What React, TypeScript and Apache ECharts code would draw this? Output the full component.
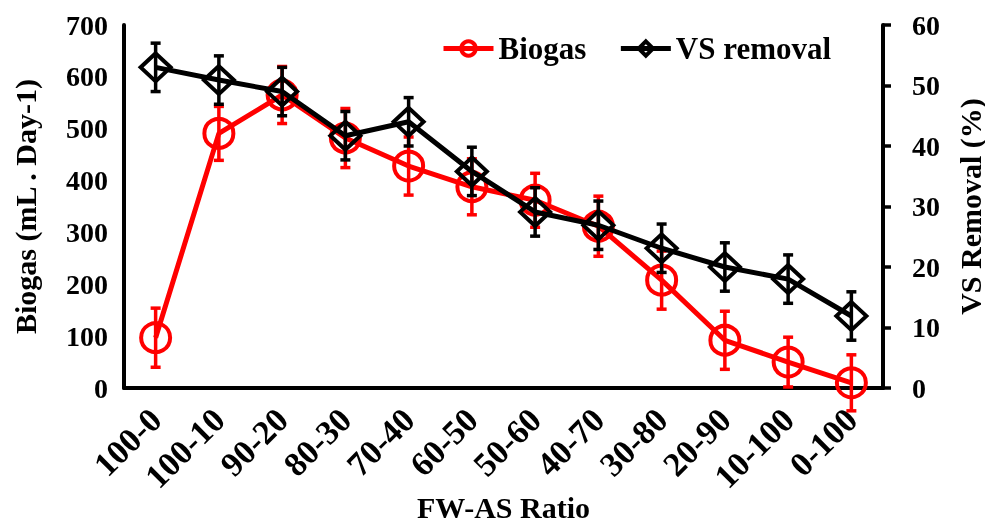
import React, { useEffect, useRef } from "react";
import * as echarts from "echarts";

const categories = ["100-0", "100-10", "90-20", "80-30", "70-40", "60-50", "50-60", "40-70", "30-80", "20-90", "10-100", "0-100"];
const biogas = [97, 491, 565, 482, 428, 388, 362, 312, 208, 92, 50, 10];
const biogasErr = [57, 52, 55, 57, 56, 54, 52, 58, 56, 56, 48, 54];
const vsRemoval = [53.0, 50.9, 49.0, 41.7, 44.0, 35.8, 29.1, 26.9, 23.1, 20.0, 18.0, 11.9];
const vsErr = [4, 4, 4, 4, 4, 4, 4, 4, 4, 4, 4, 4];
const leftTicks = [0, 700, 100];
const rightTicks = [0, 60, 10];

const FONT = '"Liberation Serif", "Times New Roman", serif';

function errorSeries(values: number[], errs: number[], color: string, yAxisIndex: number, z: number) {
  return {
    type: "custom",
    yAxisIndex,
    z,
    silent: true,
    data: values.map((v, i) => [i, v - errs[i], v + errs[i]]),
    renderItem: (params: any, api: any) => {
      const lo = api.coord([api.value(0), api.value(1)]);
      const hi = api.coord([api.value(0), api.value(2)]);
      const hw = 5;
      const style = { stroke: color, lineWidth: 3.5 };
      return {
        type: "group",
        children: [
          { type: "line", shape: { x1: lo[0], y1: lo[1], x2: hi[0], y2: hi[1] }, style },
          { type: "line", shape: { x1: lo[0] - hw, y1: lo[1], x2: lo[0] + hw, y2: lo[1] }, style },
          { type: "line", shape: { x1: hi[0] - hw, y1: hi[1], x2: hi[0] + hw, y2: hi[1] }, style },
        ],
      };
    },
  };
}

export default function App() {
  const ref = useRef<HTMLDivElement>(null);
  useEffect(() => {
    const chart = echarts.init(ref.current!, null, { renderer: "svg" });
    const axisText = { color: "#000", fontFamily: FONT, fontWeight: "bold", fontSize: 28 };
    const nameText = { color: "#000", fontFamily: FONT, fontWeight: "bold", fontSize: 30 };
    chart.setOption({
      animation: false,
      grid: { left: 124, right: 102, top: 25, bottom: 134, containLabel: false, outerBoundsMode: "none" },
      legend: {
        data: ["Biogas", "VS removal"],
        left: 436,
        top: 28,
        itemWidth: 50,
        itemHeight: 18,
        itemGap: 32,
        lineStyle: { width: 5 },
        itemStyle: { borderWidth: 4 },
        textStyle: { color: "#000", fontFamily: FONT, fontWeight: "bold", fontSize: 31 },
      },
      xAxis: {
        type: "category",
        data: categories,
        boundaryGap: true,
        axisLine: { lineStyle: { color: "#000", width: 4 } },
        axisTick: { show: false },
        axisLabel: { ...axisText, fontSize: 34, rotate: 45, margin: 26, interval: 0 },
        name: "FW-AS Ratio",
        nameLocation: "middle",
        nameGap: 104,
        nameMoveOverlap: false,
        nameTextStyle: { ...nameText, fontSize: 30 },
      },
      yAxis: [
        {
          type: "value",
          min: leftTicks[0],
          max: leftTicks[1],
          interval: leftTicks[2],
          position: "left",
          axisLine: { show: true, lineStyle: { color: "#000", width: 4 } },
          axisTick: { show: false },
          splitLine: { show: false },
          axisLabel: { ...axisText, margin: 16 },
          name: "Biogas (mL . Day-1)",
          nameLocation: "middle",
          nameGap: 84,
          nameMoveOverlap: false,
          nameRotate: 90,
          nameTextStyle: nameText,
        },
        {
          type: "value",
          min: rightTicks[0],
          max: rightTicks[1],
          interval: rightTicks[2],
          position: "right",
          axisLine: { show: true, lineStyle: { color: "#000", width: 4 } },
          axisTick: { show: true, length: 8, lineStyle: { color: "#000", width: 3.5 } },
          splitLine: { show: false },
          axisLabel: { ...axisText, margin: 29 },
          name: "VS Removal (%)",
          nameLocation: "middle",
          nameGap: 72,
          nameMoveOverlap: false,
          nameRotate: 90,
          nameTextStyle: nameText,
        },
      ],
      series: [
        {
          name: "Biogas",
          type: "line",
          yAxisIndex: 0,
          data: biogas,
          z: 2,
          symbol: "circle",
          symbolSize: 29,
          lineStyle: { color: "#ff0000", width: 5 },
          itemStyle: { color: "rgba(255,255,255,0)", borderColor: "#ff0000", borderWidth: 4 },
        },
        errorSeries(biogas, biogasErr, "#ff0000", 0, 3),
        {
          name: "VS removal",
          type: "line",
          yAxisIndex: 1,
          data: vsRemoval,
          z: 4,
          symbol: "diamond",
          symbolSize: [30, 28],
          lineStyle: { color: "#000", width: 5 },
          itemStyle: { color: "rgba(255,255,255,0)", borderColor: "#000", borderWidth: 4 },
        },
        errorSeries(vsRemoval, vsErr, "#000", 1, 5),
      ],
    });
    return () => chart.dispose();
  }, []);
  return <div ref={ref} style={{ position: "fixed", left: 0, top: 0, width: 985, height: 522 }} />;
}
